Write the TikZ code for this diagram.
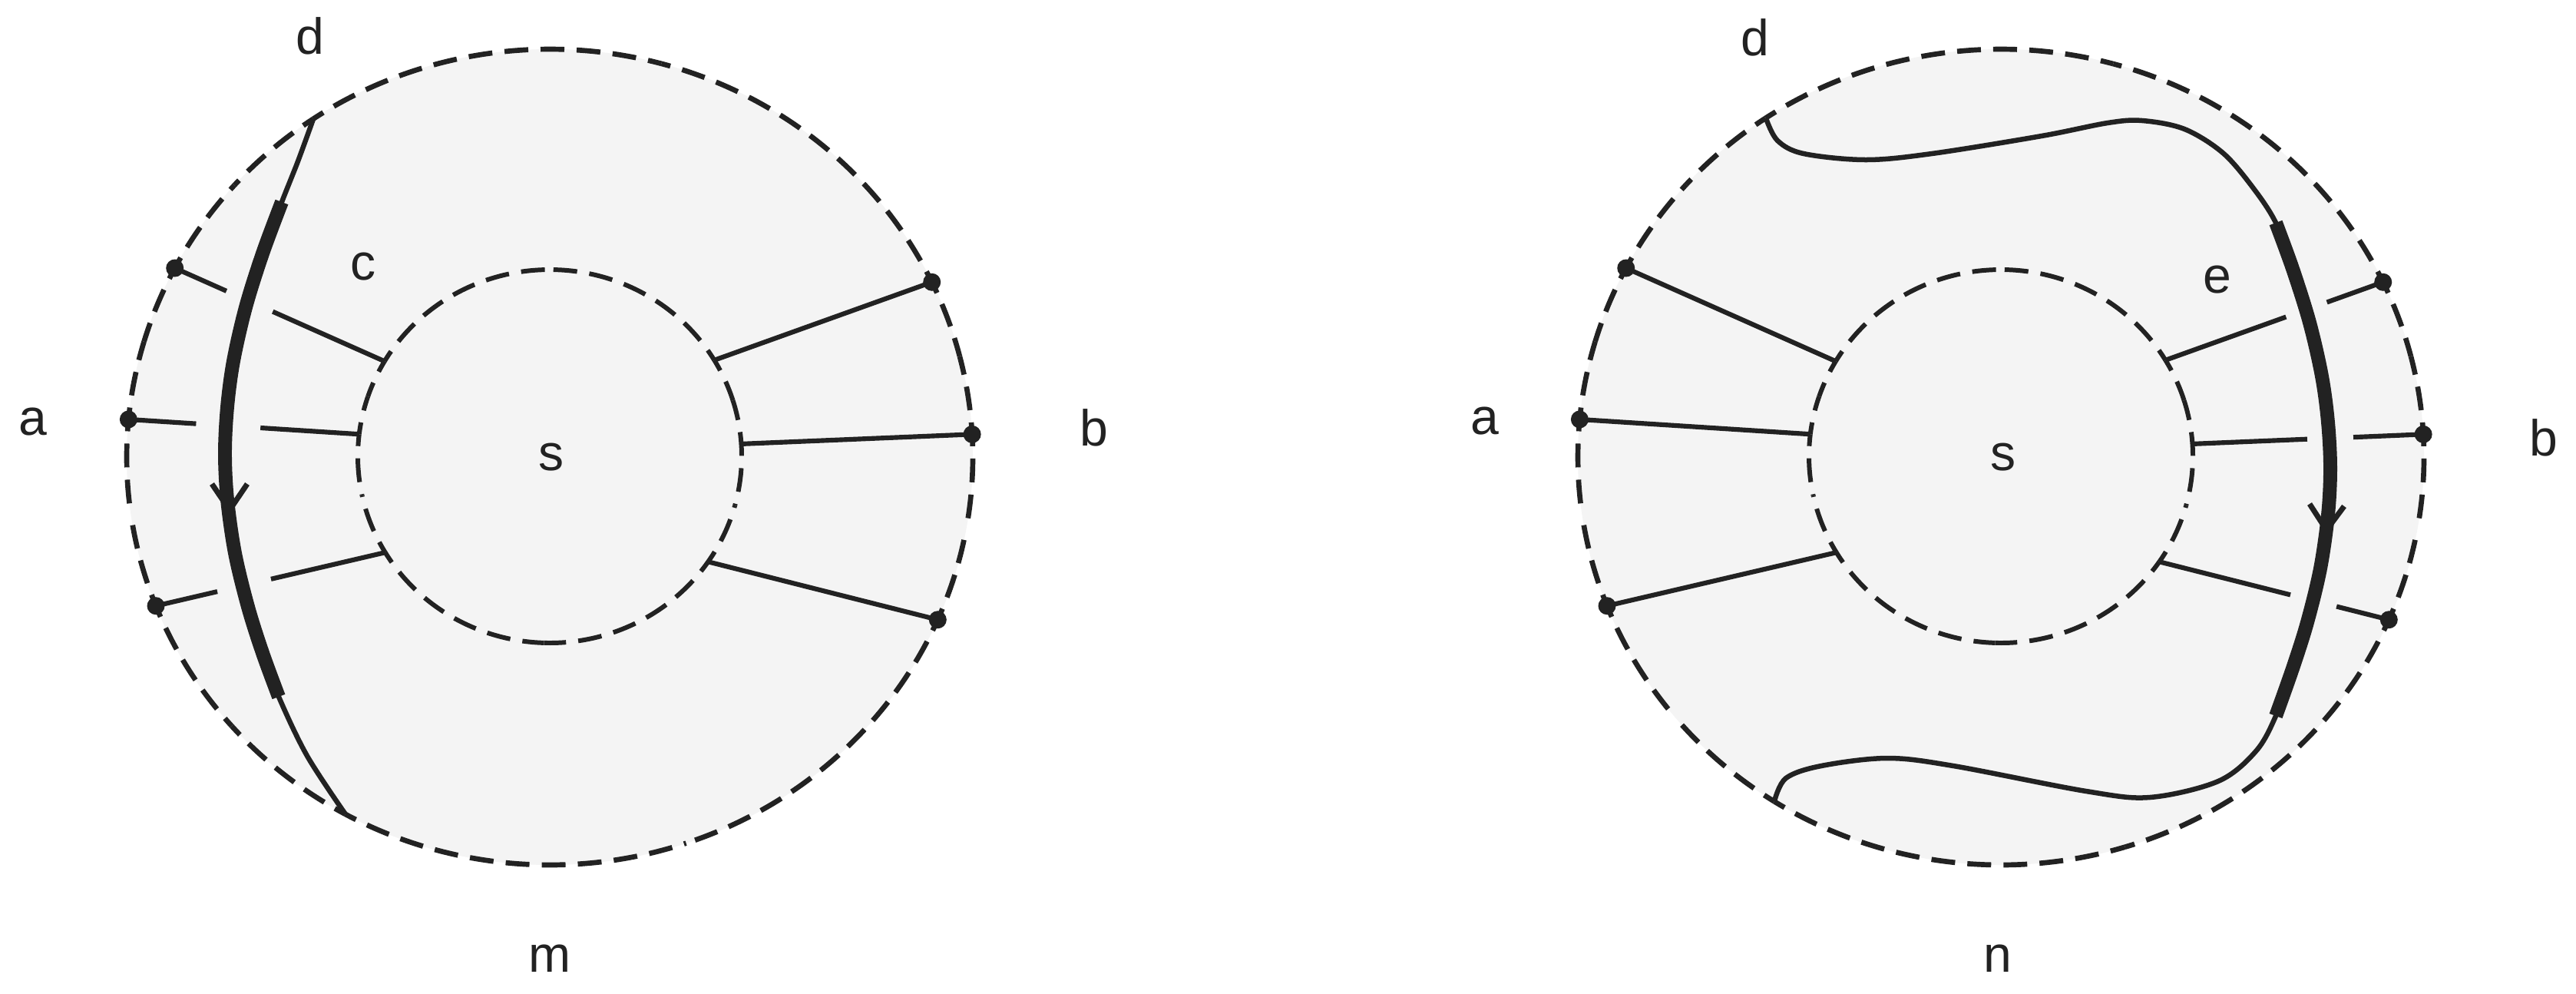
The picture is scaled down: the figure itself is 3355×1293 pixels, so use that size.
\documentclass[tikz,border=0pt]{standalone}
\usepackage{fontspec}
\setmainfont{Liberation Sans}
\usetikzlibrary{calc}
\definecolor{ink}{RGB}{34,34,34}
\definecolor{disk}{RGB}{244,244,244}
\begin{document}
\begin{tikzpicture}[x=0.01cm,y=-0.01cm,
  outercirc/.style={draw=ink,line width=1.9pt,dash pattern=on 0.31cm off 0.16cm,dash phase=0.155cm},
  innercirc/.style={draw=ink,line width=1.7pt,dash pattern=on 0.31cm off 0.16cm,dash phase=0.155cm},
  spoke/.style={draw=ink,line width=1.75pt},
  curvethin/.style={draw=ink,line width=1.85pt},
  curvethick/.style={draw=ink,line width=5.1pt},
  arrowv/.style={draw=ink,line width=2pt,line join=miter},
  lbl/.style={inner sep=0pt,text=ink,font=\fontsize{18.8}{22}\selectfont}]
\useasboundingbox (0,0) rectangle (3355,1293);
\fill[white] (0,0) rectangle (3355,1293);

% centres and discs
\foreach \cx/\s in {716/L,2606/R}{
  \coordinate (OC\s) at (\cx,595);
  \coordinate (IC\s) at (\cx,594);
  \fill[disk] (OC\s) ellipse[x radius=551,y radius=531];
}

% dots on the outer circle and spoke ends on the inner circle
\foreach \s in {L,R}{
  \foreach \n/\ang in {UL/207.6,A/185.3,LL/158.6,UR/334.6,B/356.8,LR/23.5}
    \coordinate (\s-dot-\n) at ($(OC\s)+(\ang:551 and 531)$);
  \foreach \n/\ang in {UL/210.6,A/186.8,LL/149.0,UR/329.0,B/356.2,LR/34.4}
    \coordinate (\s-in-\n) at ($(IC\s)+(\ang:250 and 243)$);
  % inner dashed circle, a dash centred on every spoke end
  \foreach \a/\b in {34.4/149.0,149.0/186.8,186.8/210.6,210.6/329.0,329.0/356.2,356.2/394.4}{
    \pgfmathsetmacro\m{(\a+\b)/2}
    \draw[innercirc] ($(IC\s)+(\a:250 and 243)$) arc[start angle=\a,end angle=\m,x radius=250,y radius=243];
    \draw[innercirc] ($(IC\s)+(\b:250 and 243)$) arc[start angle=\b,end angle=\m,x radius=250,y radius=243];
  }
}

% outer dashed circles
\foreach \s/\angs in {L/{23.5/118.9,118.9/158.6,158.6/185.3,185.3/207.6,207.6/236.0,236.0/334.6,334.6/356.8,356.8/383.5},
                      R/{23.5/122.4,122.4/158.6,158.6/185.3,185.3/207.6,207.6/236.2,236.2/334.6,334.6/356.8,356.8/383.5}}{
  \foreach \a/\b in \angs{
    \pgfmathsetmacro\m{(\a+\b)/2}
    \draw[outercirc] ($(OC\s)+(\a:551 and 531)$) arc[start angle=\a,end angle=\m,x radius=551,y radius=531];
    \draw[outercirc] ($(OC\s)+(\b:551 and 531)$) arc[start angle=\b,end angle=\m,x radius=551,y radius=531];
  }
}

% spokes, left picture
\foreach \n in {UR,B,LR}
  \draw[spoke] (L-dot-\n) -- (L-in-\n);
\foreach \n/\p/\q in {UL/0.246/0.467,A/0.293/0.572,LL/0.268/0.502}{
  \draw[spoke] (L-dot-\n) -- ($(L-dot-\n)!\p!(L-in-\n)$);
  \draw[spoke] ($(L-dot-\n)!\q!(L-in-\n)$) -- (L-in-\n);
}
% spokes, right picture
\foreach \n in {UL,A,LL}
  \draw[spoke] (R-dot-\n) -- (R-in-\n);
\foreach \n/\p/\q in {UR/0.554/0.742,B/0.497/0.697,LR/0.571/0.772}{
  \draw[spoke] (R-in-\n) -- ($(R-in-\n)!\p!(R-dot-\n)$);
  \draw[spoke] ($(R-in-\n)!\q!(R-dot-\n)$) -- (R-dot-\n);
}

% dots
\foreach \s in {L,R}
  \foreach \n in {UL,A,LL,UR,B,LR}
    \fill[ink] (\s-dot-\n) circle[radius=0.115cm];

% left curve
\draw[curvethin] plot[smooth,tension=0.55] coordinates {(408,155) (388,210) (367,263) (342,330) (320,400) (304,470) (296,530) (293,590) (296,650) (306,720) (323,790) (342,850) (363,907) (400,984) (450,1060)};
\draw[curvethick] plot[smooth,tension=0.55] coordinates {(367,263) (342,330) (320,400) (304,470) (296,530) (293,590) (296,650) (306,720) (323,790) (342,850) (363,907)};
\coordinate (vL1) at (276,630);
\coordinate (vL2) at (299,664);
\coordinate (vL3) at (322,630);
\draw[arrowv] (vL1) -- (vL2) -- (vL3);

% right curve
\draw[curvethin] plot[smooth,tension=0.55] coordinates {(2300,154) (2315,183) (2349,200) (2430,208) (2516,200) (2659,177) (2745,160) (2790,157) (2845,168) (2895,199) (2934,244) (2964,290) (2986,350) (3008,420) (3024,490) (3032,550) (3035,610) (3032,670) (3022,740) (3005,810) (2986,870) (2964,932) (2938,978) (2889,1017) (2800,1038) (2717,1030) (2544,997) (2458,987) (2372,997) (2326,1013) (2311,1043)};
\draw[curvethick] plot[smooth,tension=0.55] coordinates {(2964,290) (2986,350) (3008,420) (3024,490) (3032,550) (3035,610) (3032,670) (3022,740) (3005,810) (2986,870) (2964,932)};
\coordinate (vR1) at (3008,656);
\coordinate (vR2) at (3030,690);
\coordinate (vR3) at (3053,659);
\draw[arrowv] (vR1) -- (vR2) -- (vR3);

% labels
\node[lbl] (dL) at (404,47) {d};
\node[lbl] (cL) at (473,347) {c};
\node[lbl] (aL) at (43,549) {a};
\node[lbl] (sL) at (718,595) {s};
\node[lbl] (bL) at (1425,557) {b};
\node[lbl] (mL) at (716,1248) {m};
\node[lbl] (dR) at (2286,49) {d};
\node[lbl] (eR) at (2888,364) {e};
\node[lbl] (aR) at (1934,548) {a};
\node[lbl] (sR) at (2609,595) {s};
\node[lbl] (bR) at (3313,570) {b};
\node[lbl] (nR) at (2602,1248) {n};
\end{tikzpicture}
\end{document}
